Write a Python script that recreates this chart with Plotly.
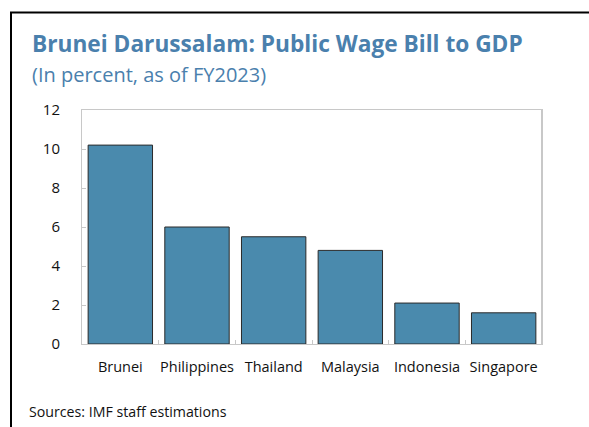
import plotly.graph_objects as go

# Public wage bill as a share of GDP, FY2023
countries = ["Brunei", "Philippines", "Thailand", "Malaysia", "Indonesia", "Singapore"]
wage_bill_pct = [10.2, 6.0, 5.5, 4.8, 2.1, 1.6]
y_ticks = [0, 2, 4, 6, 8, 10, 12]

W, H = 589, 427
L, R, T, B = 82, 47, 110, 83
PW, PH = W - L - R, H - T - B


def px(x):
    return (x - L) / PW


def py(y):
    return 1 - (y - T) / PH


TITLE_BLUE = "#4a80ad"
FONT = "Open Sans"

fig = go.Figure(
    go.Bar(
        x=countries,
        y=wage_bill_pct,
        marker=dict(color="#4a8aad", line=dict(color="#2a2a2a", width=1)),
        width=0.84,
    )
)

fig.update_layout(
    width=W,
    height=H,
    margin=dict(l=L, r=R, t=T, b=B),
    paper_bgcolor="white",
    plot_bgcolor="white",
    showlegend=False,
    font=dict(family=FONT, size=14.5, color="#111111"),
)

fig.update_xaxes(
    showline=True,
    linecolor="#c8c8c8",
    linewidth=1,
    mirror=True,
    ticks="inside",
    tickson="boundaries",
    ticklen=4,
    tickcolor="#c8c8c8",
    showgrid=False,
    tickangle=0,
    ticklabelstandoff=10,
    tickfont=dict(size=14.5, family=FONT),
)
fig.update_yaxes(
    range=[0, 12],
    tickvals=y_ticks,
    showline=True,
    linecolor="#c8c8c8",
    linewidth=1,
    mirror=True,
    ticks="inside",
    ticklen=4,
    tickcolor="#c8c8c8",
    showgrid=False,
    zeroline=False,
    ticklabelstandoff=18,
    tickfont=dict(size=15, family=FONT),
)

# Right border of the plot area drawn a touch heavier
fig.add_shape(type="line", xref="paper", yref="paper", x0=1, x1=1, y0=0, y1=1,
              line=dict(color="#c8c8c8", width=2))

# Outer frame: top and left edges
fig.add_shape(type="line", xref="paper", yref="paper",
              x0=px(10), x1=px(W + 2), y0=py(12.5), y1=py(12.5),
              line=dict(color="black", width=2))
fig.add_shape(type="line", xref="paper", yref="paper",
              x0=px(11), x1=px(11), y0=py(12), y1=py(H + 2),
              line=dict(color="black", width=2))

fig.add_annotation(
    text="<b>Brunei Darussalam: Public Wage Bill to GDP</b>",
    xref="paper", yref="paper", x=px(30), y=py(43),
    xanchor="left", yanchor="middle", showarrow=False,
    font=dict(family=FONT, size=22.7, color=TITLE_BLUE),
)
fig.add_annotation(
    text="(In percent, as of FY2023)",
    xref="paper", yref="paper", x=px(30), y=py(74),
    xanchor="left", yanchor="middle", showarrow=False,
    font=dict(family=FONT, size=20, color=TITLE_BLUE),
)
fig.add_annotation(
    text="Sources: IMF staff estimations",
    xref="paper", yref="paper", x=px(27), y=py(411),
    xanchor="left", yanchor="middle", showarrow=False,
    font=dict(family=FONT, size=14.2, color="#111111"),
)

fig.write_html("out.html")
